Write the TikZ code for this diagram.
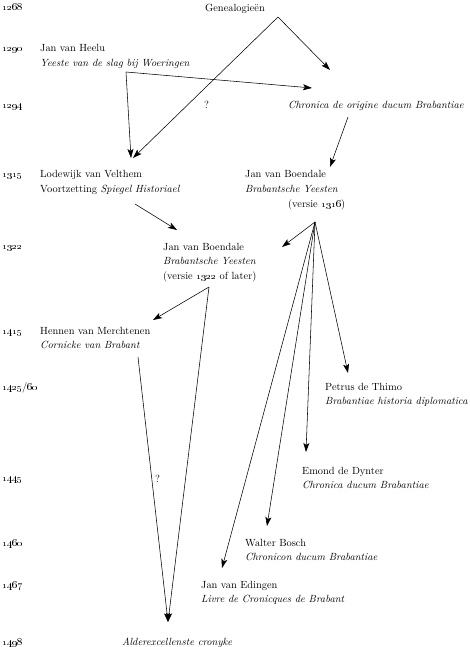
\documentclass[tikz,border=0pt]{standalone}
\usepackage{tikz}
\usetikzlibrary{arrows.meta,positioning,calc}
\newcommand{\yr}[1]{\oldstylenums{#1}}
\newcommand{\entrylines}[1]{\begin{tabular}[t]{@{}l@{}}#1\end{tabular}}

\begin{document}
\begin{tikzpicture}[
  x=1pt,y=-1pt,
  every node/.style={font=\fontsize{10.4}{14.8}\selectfont,inner sep=0pt,anchor=base west},
  year/.style={},
  entry/.style={},
  arrow/.style={-{Stealth[length=9pt,width=6pt,inset=2pt]},line width=0.55pt,color=black}
]
\useasboundingbox (0,0) rectangle (470,647);
% time axis
\node[year] (y1268) at (2,11) {\yr{1268}};
\node[year] (y1290) at (2,52) {\yr{1290}};
\node[year] (y1294) at (2,109) {\yr{1294}};
\node[year] (y1315) at (2,178) {\yr{1315}};
\node[year] (y1322) at (2,249) {\yr{1322}};
\node[year] (y1415) at (2,334) {\yr{1415}};
\node[year] (y1425) at (2,390) {\yr{1425}/\yr{60}};
\node[year] (y1445) at (2,481) {\yr{1445}};
\node[year] (y1460) at (2,546) {\yr{1460}};
\node[year] (y1467) at (2,588) {\yr{1467}};
\node[year] (y1498) at (2,645) {\yr{1498}};
% texts
\node[entry] (gen) at (205,12) {Genealogie\"en};
\node[entry] (heelu) at (40,52) {\entrylines{Jan van Heelu\\\textit{Yeeste van de slag bij Woeringen}}};
\node[entry] (chron) at (288,109) {\textit{Chronica de origine ducum Brabantiae}};
\node[entry] (qa) at (204,109) {?};
\node[entry] (velthem) at (40,178) {\entrylines{Lodewijk van Velthem\\Voortzetting \textit{Spiegel Historiael}}};
\node[entry] (boendaleA) at (245,178) {\entrylines{Jan van Boendale\\\textit{Brabantsche Yeesten}\\\hspace*{43pt}(versie \yr{1316})}};
\node[entry] (boendaleB) at (163,250) {\entrylines{Jan van Boendale\\\textit{Brabantsche Yeesten}\\(versie \yr{1322} of later)}};
\node[entry] (hennen) at (40,334) {\entrylines{Hennen van Merchtenen\\\textit{Cornicke van Brabant}}};
\node[entry] (thimo) at (325,390) {\entrylines{Petrus de Thimo\\\textit{Brabantiae historia diplomatica}}};
\node[entry] (dynter) at (302,474) {\entrylines{Emond de Dynter\\\textit{Chronica ducum Brabantiae}}};
\node[entry] (bosch) at (245,546) {\entrylines{Walter Bosch\\\textit{Chronicon ducum Brabantiae}}};
\node[entry] (edingen) at (201,588) {\entrylines{Jan van Edingen\\\textit{Livre de Cronicques de Brabant}}};
\node[entry] (alder) at (122,645) {\textit{Alderexcellenste cronyke}};
\node[entry] (qb) at (155,482) {?};
% forks
\coordinate (genfork) at ($(gen.base west)+(73,5)$);
\coordinate (heelufork) at ($(heelu.base west)+(86,20)$);
\coordinate (boendaleAfork) at ($(boendaleA.base west)+(70,44)$);
\coordinate (boendaleBfork) at ($(boendaleB.base west)+(46,37)$);
% connectors
\draw[arrow] (genfork) -- ($(chron.base west)+(42,-39)$);
\draw[arrow] (genfork) -- ($(velthem.base west)+(93,-20)$);
\draw[arrow] (heelufork) -- ($(chron.base west)+(24,-21)$);
\draw[arrow] (heelufork) -- ($(velthem.base west)+(91,-20)$);
\draw[arrow] ($(chron.base west)+(60,8)$) -- ($(boendaleA.base west)+(85,-11)$);
\draw[arrow] ($(velthem.base west)+(95,26)$) -- ($(boendaleB.base west)+(14,-20)$);
\draw[arrow] (boendaleAfork) -- ($(boendaleB.base west)+(119,-3)$);
\draw[arrow] (boendaleAfork) -- ($(thimo.base west)+(23,-17)$);
\draw[arrow] (boendaleAfork) -- ($(dynter.base west)+(4,-22)$);
\draw[arrow] (boendaleAfork) -- ($(bosch.base west)+(22,-20)$);
\draw[arrow] (boendaleAfork) -- ($(edingen.base west)+(21,-20)$);
\draw[arrow] (boendaleBfork) -- ($(hennen.base west)+(113,-14)$);
\draw[arrow] (boendaleBfork) -- ($(alder.base west)+(46,-23)$);
\draw[arrow] ($(hennen.base west)+(98,23)$) -- ($(alder.base west)+(46,-23)$);
\end{tikzpicture}
\end{document}
